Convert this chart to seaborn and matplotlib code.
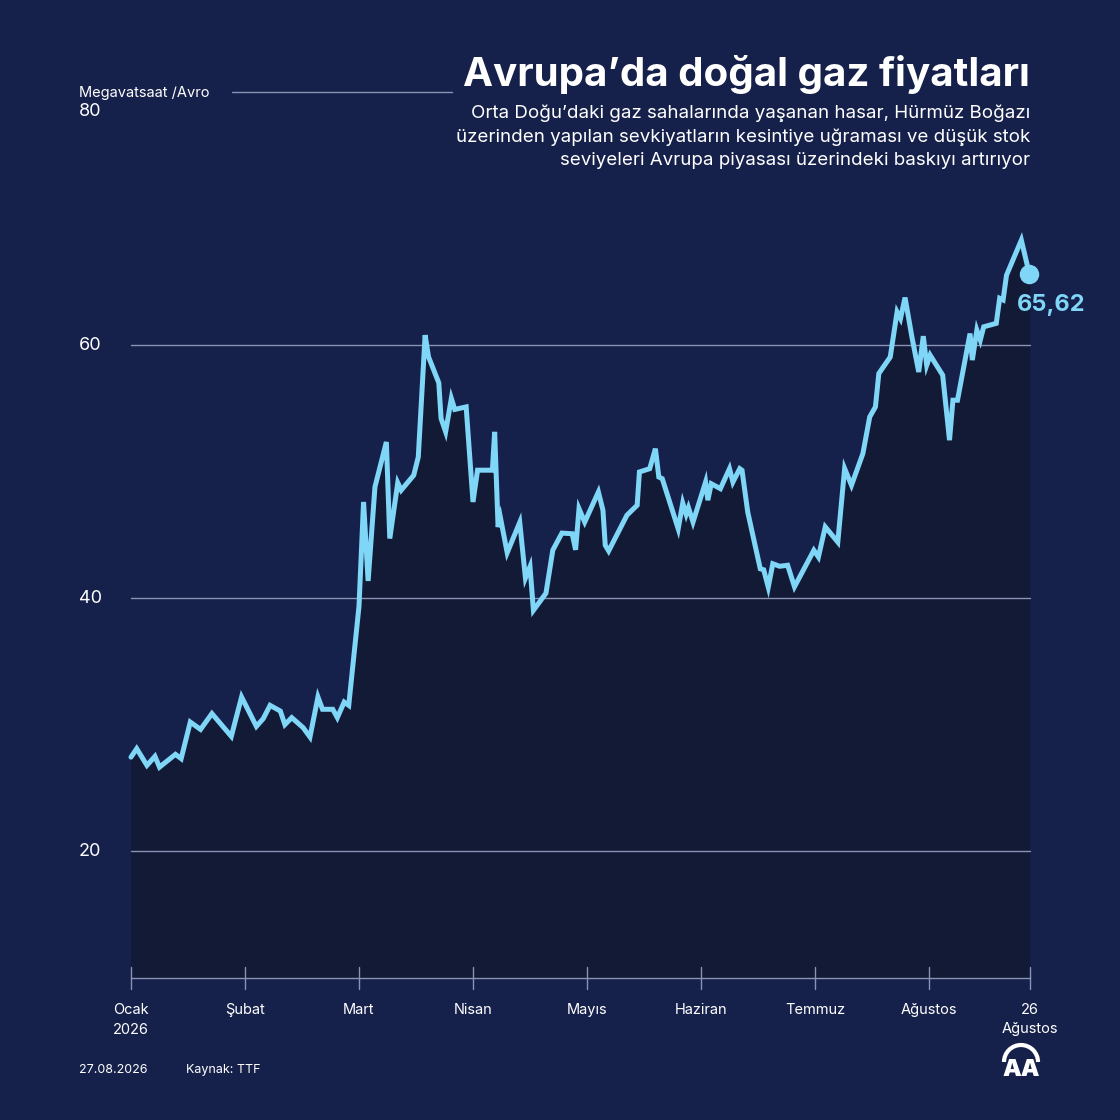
import pandas as pd
import matplotlib.pyplot as plt
import seaborn as sns
from matplotlib.patches import Arc

# position in months since 1 Jan 2026 (month ticks are evenly spaced)
month_pos = [
    0.00, 0.05, 0.14, 0.21, 0.25, 0.39, 0.44, 0.52, 0.61, 0.71, 0.88, 0.97,
    1.10, 1.16, 1.22, 1.31, 1.35, 1.41, 1.51, 1.57, 1.64, 1.68, 1.77, 1.81,
    1.87, 1.91, 2.00, 2.04, 2.08, 2.14, 2.24, 2.27, 2.34, 2.37, 2.48, 2.52,
    2.58, 2.61, 2.70, 2.72, 2.76, 2.81, 2.84, 2.94, 3.00, 3.04, 3.17, 3.19,
    3.22, 3.24, 3.30, 3.41, 3.46, 3.50, 3.53, 3.64, 3.70, 3.78, 3.87, 3.90,
    3.93, 3.98, 4.10, 4.14, 4.16, 4.19, 4.35, 4.44, 4.46, 4.55, 4.60, 4.63,
    4.66, 4.80, 4.84, 4.87, 4.89, 4.93, 5.04, 5.06, 5.09, 5.17, 5.25, 5.28,
    5.34, 5.36, 5.41, 5.52, 5.55, 5.59, 5.63, 5.69, 5.76, 5.82, 5.99, 6.03,
    6.09, 6.20, 6.26, 6.32, 6.42, 6.48, 6.53, 6.56, 6.66, 6.72, 6.75, 6.79,
    6.85, 6.91, 6.95, 6.98, 7.01, 7.12, 7.18, 7.21, 7.25, 7.36, 7.38, 7.42,
    7.45, 7.48, 7.59, 7.62, 7.65, 7.68, 7.81, 7.88,
]
price = [
    27.45, 28.12, 26.80, 27.51, 26.66, 27.67, 27.33, 30.22, 29.64, 30.89, 29.09, 32.20,
    29.88, 30.49, 31.54, 31.09, 30.02, 30.57, 29.78, 29.04, 32.20, 31.23, 31.23, 30.57,
    31.80, 31.54, 39.37, 47.61, 41.37, 48.80, 52.35, 44.72, 49.12, 48.54, 49.72, 51.16,
    60.79, 59.07, 57.02, 54.21, 53.15, 55.79, 54.92, 55.12, 47.61, 50.12, 50.12, 53.15,
    45.63, 46.40, 43.60, 46.00, 41.60, 42.50, 39.05, 40.40, 43.80, 45.15, 45.10, 43.83,
    47.08, 46.02, 48.40, 46.95, 44.19, 43.74, 46.56, 47.35, 49.98, 50.24, 51.82, 49.58,
    49.45, 45.49, 47.52, 46.63, 47.16, 46.02, 49.18, 47.75, 49.05, 48.66, 50.24, 49.18,
    50.24, 50.11, 46.81, 42.33, 42.25, 40.88, 42.73, 42.53, 42.61, 40.91, 43.79, 43.26,
    45.64, 44.44, 50.25, 48.93, 51.43, 54.33, 55.12, 57.76, 59.06, 62.62, 62.10, 63.76,
    60.65, 57.88, 60.71, 58.42, 59.21, 57.63, 52.49, 55.65, 55.65, 60.92, 58.82, 61.19,
    60.40, 61.45, 61.72, 63.70, 63.57, 65.53, 68.30, 65.62,
]

tick_pos = [0, 1, 2, 3, 4, 5, 6, 7, 7.886]
tick_labels = ["Ocak\n2026", "Şubat", "Mart", "Nisan", "Mayıs", "Haziran",
               "Temmuz", "Ağustos", "26\nAğustos"]
y_ticks = [20, 40, 60]

title = "Avrupa’da doğal gaz fiyatları"
subtitle = ("Orta Doğu’daki gaz sahalarında yaşanan hasar, Hürmüz Boğazı\n"
            "üzerinden yapılan sevkiyatların kesintiye uğraması ve düşük stok\n"
            "seviyeleri Avrupa piyasası üzerindeki baskıyı artırıyor")

BG = "#16214b"
FILL = "#131a36"
LINE = "#7fd6f6"
GRID = "#8a93b3"

sns.set_theme(style="dark")
plt.rcParams["font.family"] = ["Inter", "DejaVu Sans"]

df = pd.DataFrame({"t": month_pos, "price": price})

fig = plt.figure(figsize=(11.2, 11.2), dpi=100, facecolor=BG)
ax = fig.add_axes([131 / 1120, 142 / 1120, 899 / 1120, 886 / 1120])
ax.set_facecolor(BG)

ax.fill_between(df["t"], df["price"], 10, color=FILL, zorder=1)
for v in y_ticks:
    ax.axhline(v, color=GRID, lw=1, zorder=2)
ax.axhline(80, xmin=0.112, xmax=0.357, color=GRID, lw=1, zorder=2, clip_on=False)
sns.lineplot(data=df, x="t", y="price", ax=ax, color=LINE, lw=3.6,
             zorder=3, solid_joinstyle="miter")
for ln in ax.get_lines():
    ln.set_clip_on(False)
ax.plot(df["t"].iloc[-1], df["price"].iloc[-1], "o", color=LINE, ms=13,
        zorder=4, clip_on=False)
ax.annotate(f"{price[-1]:.2f}".replace(".", ","), (df["t"].iloc[-1], df["price"].iloc[-1]),
            xytext=(22, -31), textcoords="offset pixels", ha="center", va="center",
            color=LINE, fontsize=17, fontweight="bold")

ax.set_xlim(0, 7.886)
ax.set_ylim(10, 80)
ax.set_xlabel("")
ax.set_ylabel("")
ax.set_yticks([])
ax.set_xticks(tick_pos)
ax.set_xticklabels(tick_labels, color="white", fontsize=10.5, linespacing=1.5)
ax.tick_params(axis="x", length=0, pad=18, bottom=False)
for t in tick_pos:
    ax.plot([t, t], [-0.012, 0.012], transform=ax.get_xaxis_transform(),
            color=GRID, lw=1, clip_on=False, zorder=5)
for side in ["top", "right", "left"]:
    ax.spines[side].set_visible(False)
ax.spines["bottom"].set_color(GRID)
ax.spines["bottom"].set_linewidth(1)
ax.grid(False)

label_tr = ax.get_yaxis_transform().__class__(fig.transFigure, ax.transData)
for v in y_ticks:
    ax.text(79 / 1120, v, str(v), transform=label_tr,
            ha="left", va="center", color="white", fontsize=13)
fig.text(79 / 1120, 1 - 112 / 1120, "80", ha="left", va="center", color="white", fontsize=13)
fig.text(79 / 1120, 1 - 93 / 1120, "Megavatsaat /Avro", ha="left", va="center",
         color="white", fontsize=10.5)

fig.text(1030 / 1120, 1 - 75 / 1120, title, ha="right", va="center", color="white",
         fontsize=29, fontweight="bold")
fig.text(1030 / 1120, 1 - 105 / 1120, subtitle, ha="right", va="top", color="white",
         fontsize=13.5, linespacing=1.47)

fig.text(79 / 1120, 1 - 1070 / 1120, "27.08.2026", ha="left", va="center",
         color="white", fontsize=9)
fig.text(186 / 1120, 1 - 1070 / 1120, "Kaynak: TTF", ha="left", va="center",
         color="white", fontsize=9)

# AA logo
fig.text(1021 / 1120, 1 - 1070 / 1120, "AA", ha="center", va="center", color="white",
         fontsize=17, fontweight="black")
fig.patches.append(Arc((1021 / 1120, 1 - 1062 / 1120), 34 / 1120, 34 / 1120, theta1=0,
                       theta2=180, color="white", lw=3, transform=fig.transFigure))

fig.savefig("out.png", dpi=100, facecolor=BG)
